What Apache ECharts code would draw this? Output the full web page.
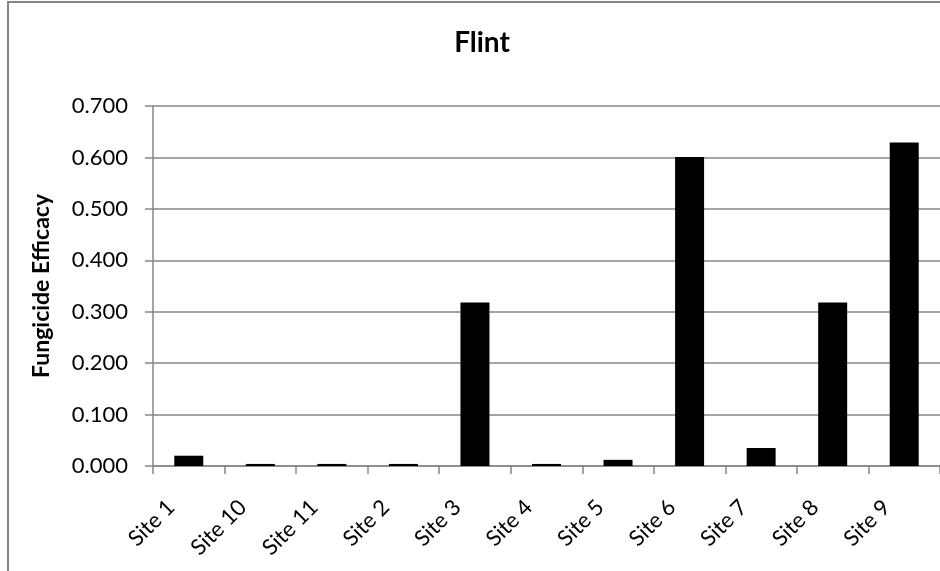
<!DOCTYPE html>
<html>
<head>
<meta charset="utf-8">
<script src="https://cdn.jsdelivr.net/npm/echarts@6/dist/echarts.min.js"></script>
<style>html,body{margin:0;padding:0;background:#fff}#c{width:940px;height:571px}</style>
</head>
<body>
<div id="c"></div>
<script>
const categories = ['Site 1','Site 10','Site 11','Site 2','Site 3','Site 4','Site 5','Site 6','Site 7','Site 8','Site 9'];
const efficacy = [0.020, 0.004, 0.004, 0.004, 0.318, 0.004, 0.012, 0.601, 0.035, 0.318, 0.629];
const yTicks = { min: 0, max: 0.7, interval: 0.1 };
const titleText = 'Flint';
const yName = 'Fungicide Efficacy';

const FONT = 'Lato';
const GRAY = '#868686';
const chart = echarts.init(document.getElementById('c'), null, { renderer: 'canvas' });
chart.setOption({
  backgroundColor: '#fff',
  animation: false,
  title: {
    text: titleText, left: 477, top: 24, textAlign: 'center',
    textStyle: { fontFamily: FONT, fontSize: 28, fontWeight: 'bold', color: '#000' }
  },
  graphic: [{
    type: 'rect', shape: { x: 8, y: 2, width: 1200, height: 1200 },
    style: { fill: null, stroke: GRAY, lineWidth: 2 }, z: 100
  }],
  grid: { left: 153, top: 106, width: 798, height: 360, containLabel: false },
  xAxis: {
    type: 'category', data: categories,
    axisLine: { lineStyle: { color: GRAY, width: 1.5 } },
    axisTick: { show: true, alignWithLabel: false, length: 8, lineStyle: { color: GRAY, width: 1.5 } },
    axisLabel: { rotate: 45, margin: 20, padding: [0, 25, 0, 0], fontFamily: FONT, fontSize: 22, color: '#000', interval: 0 }
  },
  yAxis: {
    type: 'value', min: yTicks.min, max: yTicks.max, interval: yTicks.interval,
    name: yName, nameLocation: 'middle', nameGap: 100, nameRotate: 90,
    nameTextStyle: { fontFamily: FONT, fontSize: 23, fontWeight: 'bold', color: '#000' },
    axisLine: { show: true, lineStyle: { color: GRAY, width: 1.5 } },
    axisTick: { show: true, length: 8, lineStyle: { color: GRAY, width: 1.5 } },
    splitLine: { show: true, lineStyle: { color: GRAY, width: 1.5 } },
    axisLabel: { margin: 25, fontFamily: FONT, fontSize: 22, color: '#000', formatter: v => v.toFixed(3) }
  },
  series: [{
    type: 'bar', data: efficacy, barWidth: 29,
    itemStyle: { color: '#000' }
  }]
});
</script>
</body>
</html>
